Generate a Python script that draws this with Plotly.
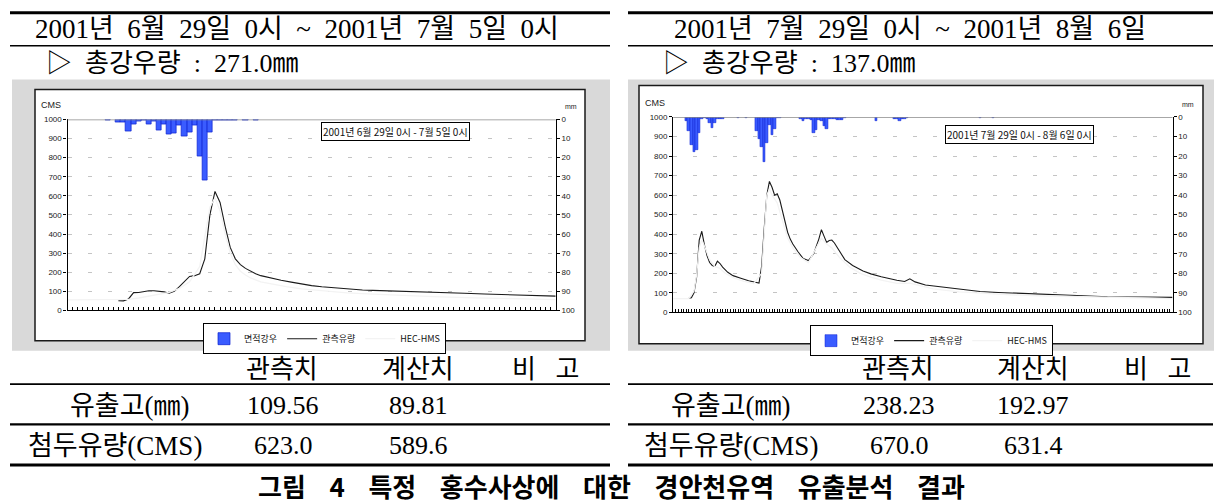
import plotly.graph_objects as go

W, H = 1214, 503

# ---------------- data : event 1 (2001-06-29 0h ~ 2001-07-05 0h), x = time step ----------------
left_obs_x = [10, 11, 12, 13, 14, 15, 16, 17, 18, 19, 20, 21, 22, 23, 24, 25, 26, 27, 28, 29,
              30, 31, 32, 33, 34, 35, 36, 37, 38, 39, 40, 42, 44, 46, 48, 50, 52, 54, 56, 58,
              60, 63, 66, 70, 74, 78, 82, 86, 90, 93, 96]
left_obs_y = [51, 50, 60, 93, 94, 100, 103, 103, 101, 97, 90, 100, 125, 150, 178, 182, 192, 270, 500, 623,
              565, 440, 330, 270, 240, 220, 205, 192, 182, 175, 168, 158, 148, 138, 130, 124, 119, 114, 110, 107,
              105, 103, 100, 96, 93, 90, 86, 83, 80, 78, 75]
left_sim_x = [0, 9, 10, 12, 14, 16, 18, 20, 22, 24, 26, 27, 28, 29, 30, 31, 32, 33, 34, 35,
              36, 38, 40, 43, 46, 50, 55, 60, 66, 72, 80, 88, 96]
left_sim_y = [55, 55, 55, 58, 65, 75, 85, 95, 115, 150, 230, 380, 540, 589.6, 520, 400, 300, 240, 205, 185,
              170, 150, 138, 124, 113, 102, 92, 85, 78, 72, 66, 61, 57]
left_rain_x = [8, 10, 11, 12, 13, 14, 15, 16, 17, 18, 19, 20, 21, 22, 23, 24, 25, 26, 27, 28,
               29, 30, 31, 32, 33, 35, 37]
left_rain_y = [0.5, 1.7, 1.7, 6.2, 2.6, 0.9, 0.3, 2.6, 1.2, 5.7, 2.6, 7.7, 7.3, 3.1, 8.7, 6.8, 3.1, 19.4, 31.9, 6.8,
               0.3, 0.3, 0.3, 0.3, 0.3, 0.5, 0.5]
left_steps = 96

# ---------------- data : event 2 (2001-07-29 0h ~ 2001-08-06 0h), x = hour ----------------
right_obs_x = [6, 7, 8, 9, 10, 11, 12, 13, 14, 15, 16, 17, 18, 19, 21, 23, 26, 29, 33, 34,
               35, 36, 37, 38, 39, 40, 41, 42, 43, 44, 45, 46, 48, 50, 52, 54, 56, 57, 58, 59,
               60, 61, 62, 64, 66, 69, 73, 76, 80, 86, 89, 91, 93, 97, 104, 111, 118, 125, 139, 153,
               161, 167, 181, 192]
right_obs_y = [72, 75, 100, 180, 370, 415, 345, 290, 255, 240, 236, 262, 250, 232, 205, 188, 175, 162, 150, 235,
               430, 600, 670, 640, 600, 607, 575, 520, 460, 410, 375, 350, 310, 275, 265, 300, 375, 423, 390, 358,
               368, 370, 355, 310, 270, 240, 212, 197, 182, 164, 158, 172, 156, 140, 130, 119, 107, 102, 95, 89,
               85, 80, 79, 77]
right_sim_x = [0, 6, 8, 9, 10, 11, 12, 14, 16, 18, 20, 23, 27, 31, 34, 35, 36, 37, 38, 40,
               42, 44, 46, 49, 52, 55, 57, 59, 61, 64, 68, 72, 76, 80, 86, 91, 95, 100, 110, 120,
               130, 140, 155, 170, 192]
right_sim_y = [70, 70, 110, 190, 330, 370, 340, 270, 235, 225, 200, 178, 160, 148, 200, 400, 600, 631.4, 600, 560,
               470, 380, 330, 280, 255, 330, 380, 350, 330, 280, 230, 200, 180, 165, 148, 150, 135, 120, 105, 97,
               90, 85, 80, 75, 70]
right_rain_x = [5, 6, 7, 8, 9, 10, 11, 12, 13, 14, 15, 16, 17, 18, 19, 25, 28, 32, 33, 34,
                35, 36, 37, 38, 39, 40, 41, 49, 50, 51, 52, 53, 54, 55, 56, 57, 58, 59, 60, 61,
                62, 63, 64, 65, 66, 78, 85, 86, 87, 88, 89, 90, 118, 123]
right_rain_y = [2.2, 7.2, 14.2, 18.1, 16.7, 8.4, 1.0, 0.5, 1.0, 3.0, 5.5, 3.0, 1.0, 0.8, 0.8, 0.3, 0.3, 7.2, 11.2, 15.6,
                23.1, 13.4, 4.0, 9.2, 6.0, 0.3, 0.5, 1.2, 2.2, 1.2, 1.2, 1.5, 8.4, 6.7, 1.5, 2.2, 4.5, 5.9, 1.2, 1.2,
                1.0, 1.5, 1.5, 1.5, 0.5, 2.2, 0.8, 1.2, 2.0, 1.2, 0.8, 0.5, 0.5, 0.5]
right_steps = 192

flow_ticks = list(range(0, 1001, 100))
rain_ticks = list(range(0, 101, 10))

legend_names = ["면적강우", "관측유량", "HEC-HMS"]

# ---------------- text ----------------
hdr_left = "2001년 6월 29일 0시 ~ 2001년 7월 5일 0시"
hdr_right = "2001년 7월 29일 0시 ~ 2001년 8월 6일"
rain_left = "▷ 총강우량 : 271.0㎜"
rain_right = "▷ 총강우량 : 137.0㎜"
box_left = "2001년 6월 29일 0시 - 7월 5일 0시"
box_right = "2001년 7월 29일 0시 - 8월 6일 0시"
tbl_cols = ["관측치", "계산치", "비 고"]
tbl_rows = ["유출고(㎜)", "첨두유량(CMS)"]
tbl_left = [["109.56", "89.81"], ["623.0", "589.6"]]
tbl_right = [["238.23", "192.97"], ["670.0", "631.4"]]
caption = "그림 4 특정 홍수사상에 대한 경안천유역 유출분석 결과"

NB = "\u00a0"


def spaced(s, n):
    return s.replace(" ", NB * n)


def px(x):
    return x / W


def py(y):
    return 1 - y / H


SERIF = "Liberation Serif, Noto Sans CJK KR, serif"
SANS = "Liberation Sans, Noto Sans CJK KR, sans-serif"
CJK = "Noto Sans CJK KR, sans-serif"

fig = go.Figure()

BAR_FILL = "#3a5cff"
BAR_EDGE = "#0a1fd0"
SIM_COLOR = "#f3f3f3"

# left event traces
fig.add_trace(go.Bar(x=left_rain_x, y=left_rain_y, width=1, name=legend_names[0],
                     marker=dict(color=BAR_FILL, line=dict(color=BAR_EDGE, width=0.7)),
                     xaxis="x", yaxis="y2", legend="legend"))
fig.add_trace(go.Scatter(x=left_obs_x, y=left_obs_y, mode="lines", name=legend_names[1],
                         line=dict(color="#1a1a1a", width=1.1), xaxis="x", yaxis="y", legend="legend"))
fig.add_trace(go.Scatter(x=left_sim_x, y=left_sim_y, mode="lines", name=legend_names[2],
                         line=dict(color=SIM_COLOR, width=1.3), xaxis="x", yaxis="y", legend="legend"))

# right event traces
fig.add_trace(go.Bar(x=right_rain_x, y=right_rain_y, width=1, name=legend_names[0],
                     marker=dict(color=BAR_FILL, line=dict(color=BAR_EDGE, width=0.5)),
                     xaxis="x2", yaxis="y4", legend="legend2"))
fig.add_trace(go.Scatter(x=right_obs_x, y=right_obs_y, mode="lines", name=legend_names[1],
                         line=dict(color="#1a1a1a", width=1.1), xaxis="x2", yaxis="y3", legend="legend2"))
fig.add_trace(go.Scatter(x=right_sim_x, y=right_sim_y, mode="lines", name=legend_names[2],
                         line=dict(color=SIM_COLOR, width=1.3), xaxis="x2", yaxis="y3", legend="legend2"))

TICKFONT = dict(family=SANS, size=8, color="#222")


def xax(domain, steps, anchor):
    return dict(domain=domain, range=[0, steps], anchor=anchor, showticklabels=False,
                ticks="inside", tick0=0, dtick=1, ticklen=3, tickcolor="#000", tickwidth=1,
                showline=True, linecolor="#000", linewidth=1.3, showgrid=False, zeroline=False,
                fixedrange=True)


def yflow(domain, anchor):
    return dict(domain=domain, range=[0, 1000], anchor=anchor, tickvals=flow_ticks,
                ticks="outside", ticklen=3, tickcolor="#000", tickfont=TICKFONT,
                showline=True, linecolor="#000", linewidth=1.3, showgrid=True,
                gridcolor="#c4c4c4", griddash="4px,16px", gridwidth=1, zeroline=False,
                fixedrange=True)


def yrain(overlay, anchor):
    return dict(overlaying=overlay, side="right", anchor=anchor, range=[100, 0],
                tickvals=rain_ticks, ticks="outside", ticklen=3, tickcolor="#000",
                tickfont=TICKFONT, showline=True, linecolor="#000", linewidth=1.3,
                showgrid=False, zeroline=False, fixedrange=True)


L_PLOT = (67.5, 555.7, 117.5, 312.0)
R_PLOT = (673.2, 1172.5, 115.0, 314.0)

fig.update_layout(
    xaxis=xax([px(L_PLOT[0]), px(L_PLOT[1])], left_steps, "y"),
    yaxis=yflow([py(L_PLOT[3]), py(L_PLOT[2])], "x"),
    yaxis2=yrain("y", "x"),
    xaxis2=xax([px(R_PLOT[0]), px(R_PLOT[1])], right_steps, "y3"),
    yaxis3=yflow([py(R_PLOT[3]), py(R_PLOT[2])], "x2"),
    yaxis4=yrain("y3", "x2"),
)

# ---------------- shapes ----------------
shapes = []
for (gx0, gx1), (bx0, bx1, by0, by1) in [((12, 610), (35, 585, 87, 343)),
                                         ((628, 1214), (639, 1203, 83, 346))]:
    shapes.append(dict(type="rect", xref="paper", yref="paper", layer="below",
                       x0=px(gx0), x1=px(gx1), y0=py(353), y1=py(77),
                       fillcolor="#d9d9d9", line=dict(width=0)))
    shapes.append(dict(type="rect", xref="paper", yref="paper", layer="below",
                       x0=px(bx0), x1=px(bx1), y0=py(by1), y1=py(by0),
                       fillcolor="#ffffff", line=dict(color="#1a1a1a", width=1.5)))

for xr, yr in [("x domain", "y"), ("x2 domain", "y3")]:
    shapes.append(dict(type="line", xref=xr, yref=yr, x0=0, x1=1, y0=1000, y1=1000,
                       line=dict(color="#8a8a8a", width=1.5)))

for (x0, x1) in [(10, 610), (628, 1213)]:
    for y, w in [(9, 3), (42.5, 1.5), (387, 1.6), (428, 2.2), (469.5, 3)]:
        shapes.append(dict(type="line", xref="paper", yref="paper",
                           x0=px(x0), x1=px(x1), y0=py(y), y1=py(y),
                           line=dict(color="#000", width=w)))

# ---------------- annotations ----------------
ann = []


def text(x, y, s, size, family=SERIF, xanchor="center", color="#000", **kw):
    ann.append(dict(x=px(x), y=py(y), xref="paper", yref="paper", text=s, showarrow=False,
                    xanchor=xanchor, yanchor="middle", font=dict(family=family, size=size, color=color), **kw))


text(33, 25, spaced(hdr_left, 2), 27, xanchor="left")
text(672, 25, spaced(hdr_right, 2), 27, xanchor="left")
text(44, 61, spaced(rain_left, 2), 26, xanchor="left")
text(661, 61, spaced(rain_right, 2), 26, xanchor="left")

text(39, 103, "CMS", 9, family=SANS, xanchor="left", color="#222")
text(563, 104, "mm", 7, family=SANS, xanchor="left", color="#222")
text(643, 101, "CMS", 9, family=SANS, xanchor="left", color="#222")
text(1180, 102, "mm", 7, family=SANS, xanchor="left", color="#222")
text(396, 129.5, box_left, 10, family=CJK, color="#111",
     bordercolor="#000", borderwidth=1, borderpad=1, bgcolor="#fff")
text(1019, 133, box_right, 10, family=CJK, color="#111",
     bordercolor="#000", borderwidth=1, borderpad=1, bgcolor="#fff")

# table
for cx in [(282, 418, 545), (898, 1033, 1157)]:
    for c, s in zip(cx, tbl_cols):
        text(c, 372, spaced(s, 3), 26)
for rxs, cx, vals in [((130, 115), (283, 418), tbl_left), ((731, 731), (899, 1033), tbl_right)]:
    for r, yy in enumerate((409, 450)):
        text(rxs[r], yy, tbl_rows[r], 27)
        for c, s in zip(cx, vals[r]):
            text(c, yy, s, 26)

text(611, 490, "<b>" + spaced(caption, 4) + "</b>", 26, family=CJK)

legend_common = dict(orientation="h", xanchor="left", yanchor="top", bgcolor="#fff",
                     bordercolor="#000", borderwidth=1, itemwidth=30,
                     font=dict(family=CJK, size=9, color="#111"), tracegroupgap=0,
                     itemclick=False, itemdoubleclick=False)

fig.update_layout(
    width=W, height=H, autosize=False,
    margin=dict(l=0, r=0, t=0, b=0, pad=0),
    paper_bgcolor="#ffffff", plot_bgcolor="rgba(0,0,0,0)",
    showlegend=True,
    legend=dict(x=px(203), y=py(325), **legend_common),
    legend2=dict(x=px(810), y=py(327), **legend_common),
    shapes=shapes, annotations=ann, bargap=0,
)

fig.write_html("out.html", config={"displayModeBar": False},
               post_script="document.body.style.margin='0px';document.body.style.overflow='hidden';")
